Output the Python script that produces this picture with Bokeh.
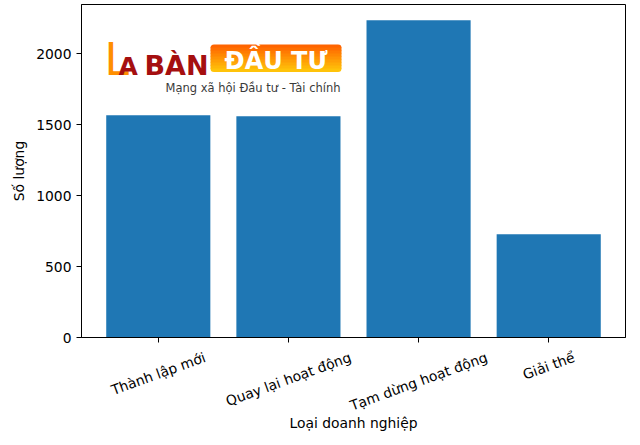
import math
import unicodedata
from bokeh.plotting import figure
from bokeh.models import Range1d, FixedTicker, Label, BoxAnnotation
from bokeh.embed import file_html
from bokeh.resources import INLINE

# ---- data ----
categories = ["Thành lập mới", "Quay lại hoạt động", "Tạm dừng hoạt động", "Giải thể"]
counts = [1565, 1558, 2234, 727]
y_ticks = [0, 500, 1000, 1500, 2000]
x_title = "Loại doanh nghiệp"
y_title = "Số lượng"

# ---- style ----
BAR_COLOR = "#1f77b4"
FONT = "DejaVu Sans"
FS = 13.89
FS_PX = "13.89px"
BASE_SHIFT = 0.37  # em correction for alphabetic anchoring of Label

positions = list(range(len(categories)))
bar_width = 0.8
x_pad = bar_width / 2 + 0.05 * (len(categories) - 1 + bar_width)
ymax = max(counts) * 1.05

FRAME_L, FRAME_T, FRAME_W, FRAME_H = 81, 4, 544, 333

p = figure(output_backend="svg", toolbar_location=None,
           frame_width=FRAME_W, frame_height=FRAME_H,
           min_border_left=FRAME_L, min_border_right=640 - FRAME_L - FRAME_W,
           min_border_top=FRAME_T, min_border_bottom=445 - FRAME_T - FRAME_H,
           x_range=Range1d(-x_pad, len(categories) - 1 + x_pad),
           y_range=Range1d(0, ymax))

p.vbar(x=positions, top=counts, width=bar_width, color=BAR_COLOR, line_color=None)

p.xgrid.visible = False
p.ygrid.visible = False
p.outline_line_color = "black"
p.outline_line_alpha = 1
p.outline_line_width = 1
p.background_fill_color = "white"
p.border_fill_color = "white"

for ax in (p.xaxis[0], p.yaxis[0]):
    ax.axis_line_color = "black"
    ax.major_tick_line_color = "black"
    ax.major_tick_out = 5
    ax.major_tick_in = 0
    ax.minor_tick_line_color = None
    ax.major_label_text_font = FONT
    ax.major_label_text_font_size = FS_PX
    ax.major_label_text_color = "black"
    ax.axis_label_text_font = FONT
    ax.axis_label_text_font_size = FS_PX
    ax.axis_label_text_font_style = "normal"
    ax.axis_label_text_color = "black"

p.yaxis.ticker = FixedTicker(ticks=y_ticks)
p.yaxis.major_label_standoff = 5
p.yaxis.axis_label = y_title
p.yaxis.axis_label_standoff = 6

p.xaxis.ticker = FixedTicker(ticks=positions)
p.xaxis.major_label_overrides = {i: "" for i in positions}
p.xaxis.major_label_text_font_size = "0px"
p.xaxis.axis_label = x_title
p.xaxis.axis_label_standoff = 72

# rotated category labels, centred on their ticks (matplotlib rotation=20 look)
ADV = {"a": 1255, "c": 1100, "d": 1300, "e": 1260, "g": 1300, "h": 1298, "i": 569,
       "l": 569, "m": 1995, "n": 1298, "o": 1253, "p": 1300, "t": 803, "u": 1298,
       "y": 1212, "T": 1251, "Q": 1612, "G": 1589, " ": 651}


def text_len(s, size):
    base = unicodedata.normalize("NFD", s)
    units = sum(ADV.get(ch, 1200) for ch in base if not unicodedata.combining(ch))
    return units / 2048 * size


rot = math.radians(20)
label_top = FRAME_T + FRAME_H + 5 + 5
for pos, cat in zip(positions, categories):
    L = text_len(cat, FS)
    H = L * math.sin(rot) + 1.164 * FS * math.cos(rot)
    p.add_layout(Label(x=pos, y=label_top + H / 2 + 1.5, x_units="data", y_units="canvas",
                       text=cat, angle=20, angle_units="deg",
                       text_align="center", text_baseline="middle",
                       text_font=FONT, text_font_size=FS_PX, text_color="black"), "below")

# ---- watermark logo ----
strip_top, strip_bottom, box_l, box_r = 44, 71, 210, 341
n_strips = 9
sh = (strip_bottom - strip_top) / n_strips
for k in range(n_strips):
    t = k / (n_strips - 1)
    r, g, b = 255, int(100 + 95 * t), int(0 + 10 * t)
    radius = (4, 4, 0, 0) if k == 0 else ((0, 0, 4, 4) if k == n_strips - 1 else 0)
    p.add_layout(BoxAnnotation(left=box_l, right=box_r,
                               top=strip_top + k * sh, bottom=strip_top + (k + 1) * sh + 0.5,
                               left_units="canvas", right_units="canvas",
                               top_units="canvas", bottom_units="canvas",
                               fill_color="#%02x%02x%02x" % (r, g, b), fill_alpha=1,
                               line_color=None, border_radius=radius))


def logo_text(x, y, text, size, color, bold=False, align="left"):
    p.add_layout(Label(x=x, y=y - BASE_SHIFT * size, x_units="canvas", y_units="canvas",
                       text=text, text_font=FONT, text_font_size="%.1fpx" % size,
                       text_font_style="bold" if bold else "normal",
                       text_color=color, text_baseline="alphabetic", text_align=align))


logo_text(104, 75, "L", 44, "#ff8f00")
logo_text(118, 75, "A", 25, "#a50f0f", bold=True)
logo_text(144, 75, "BÀN", 27, "#a50f0f", bold=True)
logo_text(275.5, 69.5, "ĐẦU TƯ", 24, "white", bold=True, align="center")
logo_text(165, 92, "Mạng xã hội Đầu tư - Tài chính", 11.5, "#3a3a3a")

html = file_html(p, INLINE)
html = html.replace("<head>", "<head><style>html,body{margin:0;padding:0;}</style>", 1)
open("out.html", "w").write(html)
